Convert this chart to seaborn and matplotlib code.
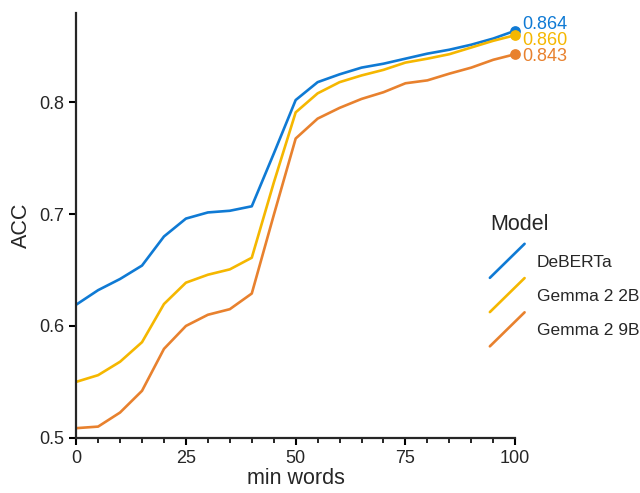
import pandas as pd
import seaborn as sns
import matplotlib.pyplot as plt
from matplotlib.lines import Line2D
from matplotlib.legend_handler import HandlerLine2D
from matplotlib.ticker import MultipleLocator

min_words = [0, 5, 10, 15, 20, 25, 30, 35, 40, 45, 50, 55, 60, 65, 70, 75, 80, 85, 90, 95, 100]
deberta = [0.619, 0.632, 0.642, 0.654, 0.680, 0.696, 0.7015, 0.703, 0.707, 0.754, 0.802, 0.818, 0.825,
           0.831, 0.8345, 0.839, 0.8435, 0.847, 0.8515, 0.857, 0.864]
gemma_2b = [0.550, 0.556, 0.568, 0.5855, 0.6196, 0.6387, 0.6458, 0.6506, 0.661, 0.728, 0.791, 0.808, 0.818,
            0.824, 0.829, 0.8355, 0.839, 0.843, 0.849, 0.855, 0.860]
gemma_9b = [0.5086, 0.510, 0.5226, 0.542, 0.5795, 0.600, 0.610, 0.615, 0.629, 0.699, 0.7676, 0.7854, 0.795,
            0.803, 0.809, 0.817, 0.8196, 0.8256, 0.831, 0.838, 0.843]
models = ["DeBERTa", "Gemma 2 2B", "Gemma 2 9B"]
colors = ["#0f7ad4", "#f5b700", "#e8812e"]

df = pd.DataFrame({
    "min words": min_words * 3,
    "ACC": deberta + gemma_2b + gemma_9b,
    "Model": [m for m in models for _ in min_words],
})

sns.set_style("ticks")
plt.rcParams["font.family"] = ["Liberation Sans", "DejaVu Sans"]

fig, ax = plt.subplots(figsize=(6.4, 4.93), dpi=100)
fig.subplots_adjust(left=0.119, right=0.805, top=0.974, bottom=0.112)

sns.lineplot(data=df, x="min words", y="ACC", hue="Model", palette=colors, linewidth=1.9, ax=ax, legend=False)

# end points with value labels
offsets = [4.5, -4, -1.5]
for m, c, off in zip(models, colors, offsets):
    last = df[df["Model"] == m].iloc[-1]
    ax.scatter(last["min words"], last["ACC"], color=c, s=45, zorder=5, clip_on=False)
    ax.annotate(f"{last['ACC']:.3f}", (last["min words"], last["ACC"]), xytext=(5, off),
                textcoords="offset points", color=c, fontsize=13, va="center", ha="left",
                annotation_clip=False)

ax.set_xlim(0, 100)
ax.set_ylim(0.5, 0.88)
ax.xaxis.set_major_locator(MultipleLocator(25))
ax.xaxis.set_minor_locator(MultipleLocator(5))
ax.yaxis.set_major_locator(MultipleLocator(0.1))
ax.tick_params(axis="both", which="major", labelsize=13, length=5, width=1.5, color="black")
ax.tick_params(axis="x", which="minor", length=3.5, width=1.2, color="black")
for s in ["left", "bottom"]:
    ax.spines[s].set_linewidth(1.6)
sns.despine(ax=ax)
ax.set_xlabel("min words", fontsize=15.5, labelpad=1)
ax.set_ylabel("ACC", fontsize=15.5, labelpad=5)


class DiagHandler(HandlerLine2D):
    def create_artists(self, legend, orig_handle, xdescent, ydescent, width, height, fontsize, trans):
        line = Line2D([0, width], [-height * 0.9, height * 1.9], color=orig_handle.get_color(),
                      linewidth=orig_handle.get_linewidth(), transform=trans)
        return [line]


handles = [Line2D([], [], color=c, linewidth=1.9) for c in colors]
leg = fig.legend(handles, models, title="Model", loc="upper left", bbox_to_anchor=(0.741, 0.597),
                 frameon=False, fontsize=12.5, title_fontsize=15.5, handlelength=2.0, handletextpad=0.7,
                 labelspacing=1.1, handler_map={Line2D: DiagHandler()})
leg._legend_box.align = "left"
leg._legend_box.sep = 14

fig.savefig("out.png", dpi=100)
